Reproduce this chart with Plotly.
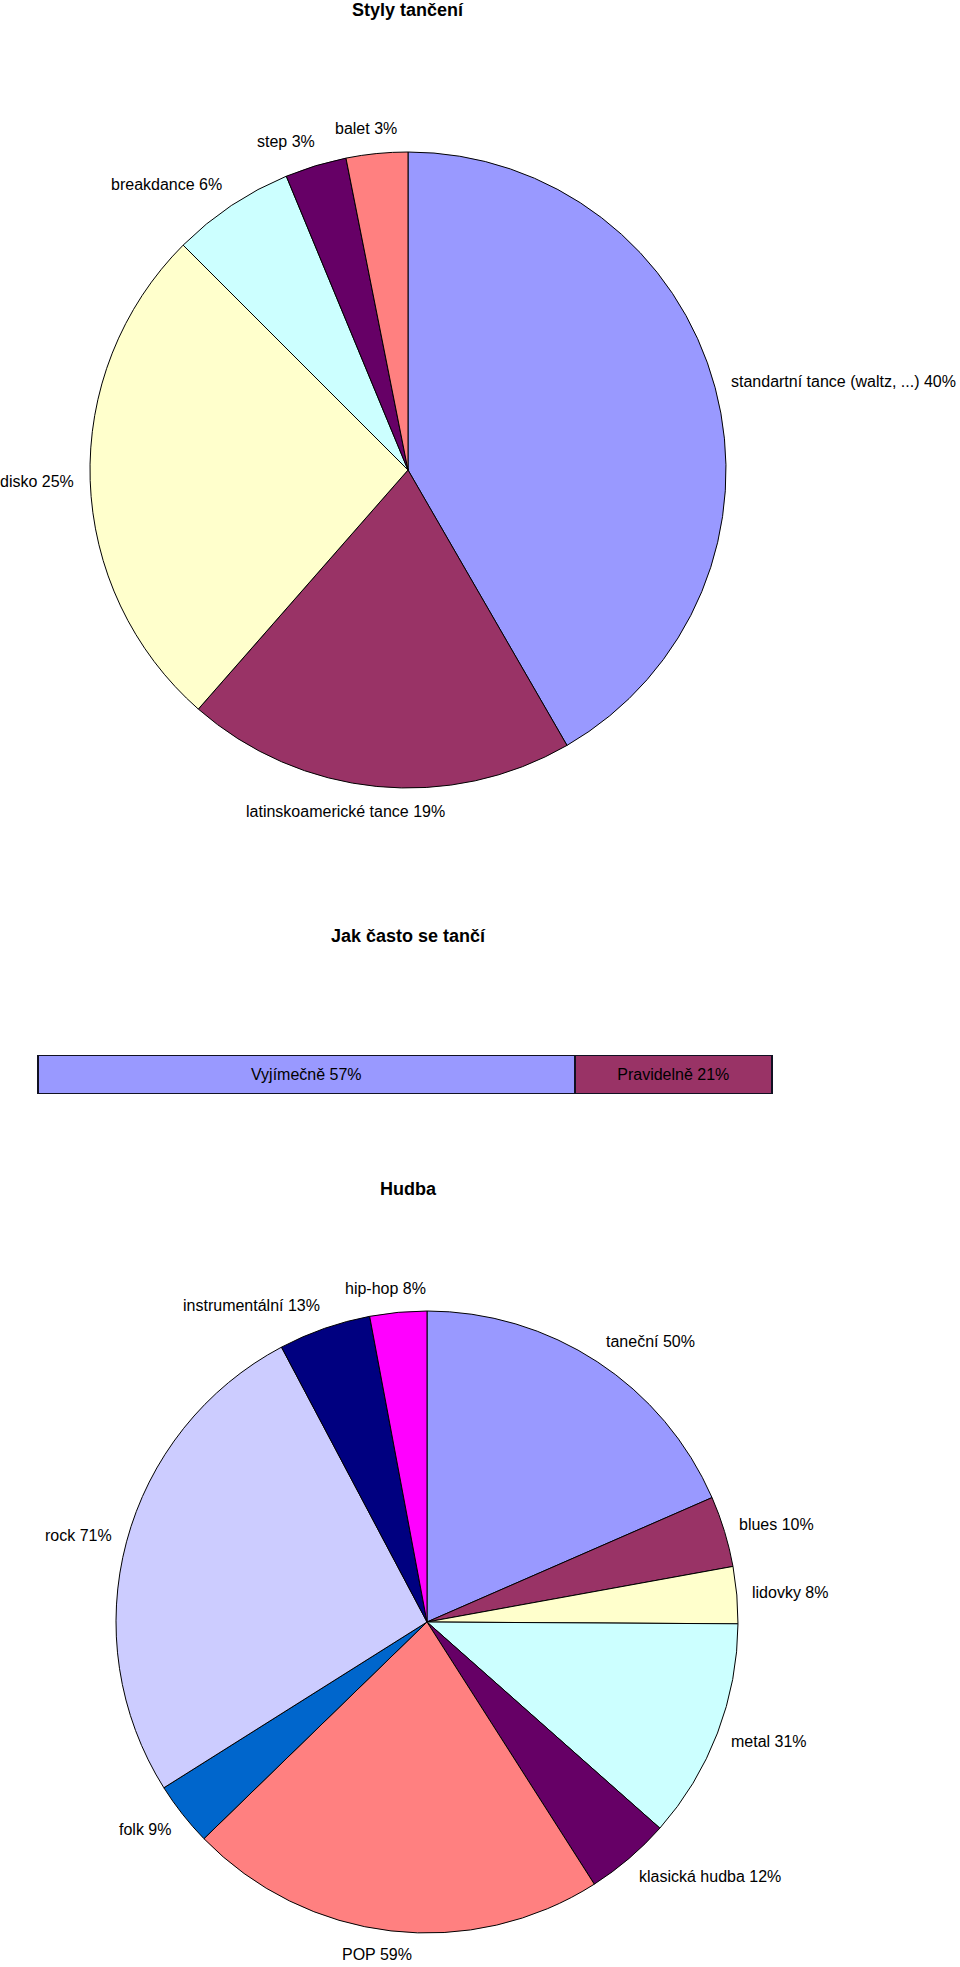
import math
import plotly.graph_objects as go

W, H = 960, 1967
FONT = "Liberation Sans, Arial, sans-serif"
FS = 16

# --- Styly tančení ---
dance_styles = ["standartní tance (waltz, ...)", "latinskoamerické tance", "disko",
                "breakdance", "step", "balet"]
dance_pct = [40, 19, 25, 6, 3, 3]
dance_colors = ["#9999FF", "#993366", "#FFFFCC", "#CCFFFF", "#660066", "#FF8080"]

# --- Jak často se tančí ---
freq_labels = ["Vyjímečně", "Pravidelně"]
freq_pct = [57, 21]
freq_colors = ["#9999FF", "#993366"]

# --- Hudba ---
music_genres = ["taneční", "blues", "lidovky", "metal", "klasická hudba", "POP",
                "folk", "rock", "instrumentální", "hip-hop"]
music_pct = [50, 10, 8, 31, 12, 59, 9, 71, 13, 8]
music_colors = ["#9999FF", "#993366", "#FFFFCC", "#CCFFFF", "#660066", "#FF8080",
                "#0066CC", "#CCCCFF", "#000080", "#FF00FF"]

# approximate Arial/Liberation Sans advance widths (em/1000)
CW = {" ": 278, "(": 333, ")": 333, "%": 889, ",": 278, "-": 333, ".": 278,
      "c": 500, "f": 278, "i": 222, "j": 222, "k": 500, "l": 222, "m": 833,
      "r": 333, "s": 500, "t": 278, "v": 500, "w": 722, "x": 500, "y": 500,
      "z": 500, "í": 278, "č": 500, "P": 667, "O": 778, "V": 667}


def text_w(s):
    return sum(CW.get(ch, 556) for ch in s) * FS / 1000.0


def pie_domain(cx, cy, r):
    return dict(x=[(cx - r) / W, (cx + r) / W],
                y=[(H - cy - r) / H, (H - cy + r) / H])


def pie_labels(labels, values, cx, cy, r, gap=15, lh=18):
    """Excel-like outside labels placed from slice mid-angles."""
    total = float(sum(values))
    anns = []
    cum = 0.0
    R = r + gap
    for lab, v in zip(labels, values):
        mid = (cum + v / 2.0) / total * 2 * math.pi
        cum += v
        ux, uy = math.sin(mid), -math.cos(mid)
        txt = f"{lab} {v}%"
        w = text_w(txt)
        fx = max(-1.0, min(1.0, 3.0 * ux))
        x = cx + R * ux + fx * w / 2.0
        y = cy + R * uy + uy * lh / 2.0
        anns.append(dict(text=txt, x=x / W, y=(H - y) / H, xref="paper", yref="paper",
                         showarrow=False, xanchor="center", yanchor="middle",
                         font=dict(family=FONT, size=FS, color="black")))
    return anns


fig = go.Figure()

TOP = (408, 470, 318)
BOT = (427, 1622, 311)

fig.add_trace(go.Pie(
    labels=dance_styles, values=dance_pct, sort=False, direction="clockwise",
    rotation=0, marker=dict(colors=dance_colors, line=dict(color="black", width=1)),
    textinfo="none", domain=pie_domain(*TOP), showlegend=False, hoverinfo="label+value",
))

fig.add_trace(go.Pie(
    labels=music_genres, values=music_pct, sort=False, direction="clockwise",
    rotation=0, marker=dict(colors=music_colors, line=dict(color="black", width=1)),
    textinfo="none", domain=pie_domain(*BOT), showlegend=False, hoverinfo="label+value",
))

for lab, val, col in zip(freq_labels, freq_pct, freq_colors):
    fig.add_trace(go.Bar(
        x=[val], y=[0], orientation="h", width=1,
        marker=dict(color=col, line=dict(color="#111122", width=1.6)),
        text=[f"{lab} {val}%"], textposition="inside", insidetextanchor="middle",
        textfont=dict(family=FONT, size=FS, color="black"),
        xaxis="x", yaxis="y", showlegend=False, cliponaxis=False,
    ))

annotations = []
titles = [("Styly tančení", 10), ("Jak často se tančí", 936), ("Hudba", 1189)]
for t, y in titles:
    annotations.append(dict(text=f"<b>{t}</b>", x=0.425, y=(H - y) / H,
                            xref="paper", yref="paper", showarrow=False,
                            xanchor="center", yanchor="middle",
                            font=dict(family=FONT, size=18, color="black")))
annotations += pie_labels(dance_styles, dance_pct, *TOP, gap=16)
annotations += pie_labels(music_genres, music_pct, *BOT, gap=15)

# bar plot area: 0..78 maps to x 39..773 px, bar (width 1) spans y 1056..1094 px
px_x = (773 - 39) / 78.0
px_y = (1094 - 1056) / 1.0
fig.update_layout(
    width=W, height=H, margin=dict(l=0, r=0, t=0, b=0),
    paper_bgcolor="white", plot_bgcolor="white",
    barmode="stack", bargap=0,
    font=dict(family=FONT, size=FS, color="black"),
    xaxis=dict(domain=[(39 - px_x) / W, (773 + px_x) / W], range=[-1, 79],
               showgrid=False, zeroline=False, showticklabels=False,
               showline=False, fixedrange=True),
    yaxis=dict(domain=[(H - 1094 - 0.1 * px_y) / H, (H - 1056 + 0.1 * px_y) / H],
               range=[-0.6, 0.6], showgrid=False, zeroline=False,
               showticklabels=False, showline=False, fixedrange=True),
    annotations=annotations,
    uniformtext=dict(minsize=FS, mode="show"),
)

fig.write_html("out.html")
